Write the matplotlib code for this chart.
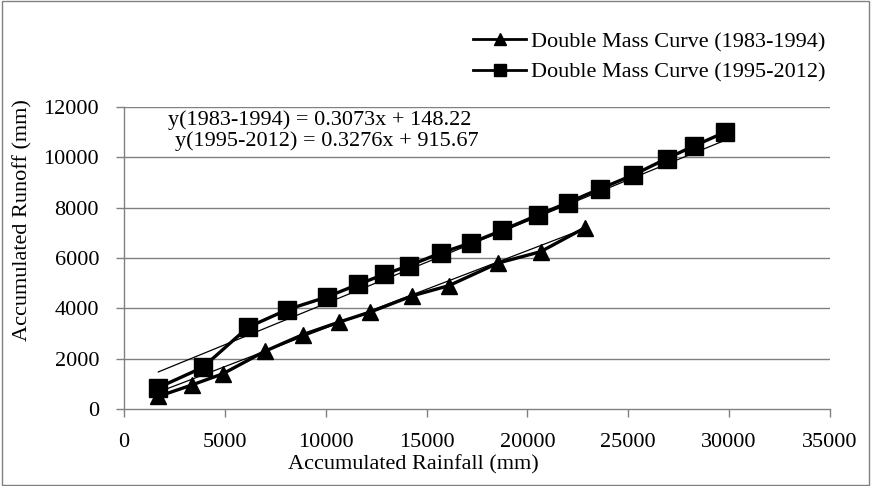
import numpy as np
import matplotlib
matplotlib.use("Agg")
import matplotlib.pyplot as plt
import matplotlib.patches as patches

# accumulated rainfall / runoff, period 1 (1983-1994)
rain_1983 = [1700, 3350, 4900, 7000, 8850, 10650, 12200, 14300, 16100, 18550, 20650, 22850]
runoff_1983 = [500, 950, 1400, 2300, 2950, 3450, 3850, 4500, 4900, 5800, 6250, 7200]

# accumulated rainfall / runoff, period 2 (1995-2012)
rain_1995 = [1700, 3900, 6150, 8100, 10050, 11600, 12900, 14150, 15700, 17200,
             18750, 20500, 22000, 23600, 25250, 26900, 28250, 29800]
runoff_1995 = [850, 1650, 3250, 3950, 4450, 4950, 5350, 5700, 6200, 6600,
               7100, 7700, 8200, 8750, 9300, 9950, 10450, 11000]

# fitted lines
fit_1983 = (0.3073, 148.22)
fit_1995 = (0.3276, 915.67)

x_ticks = [0, 5000, 10000, 15000, 20000, 25000, 30000, 35000]
y_ticks = [0, 2000, 4000, 6000, 8000, 10000, 12000]

plt.rcParams['font.family'] = ['Liberation Serif', 'DejaVu Serif']
fs = 16
W, H = 871, 486

fig = plt.figure(figsize=(W / 100, H / 100), dpi=100)
ax = fig.add_axes([124 / W, 1 - 409 / H, (830 - 124) / W, (409 - 107) / H])

# outer frame of the chart
fig.patches.append(patches.Rectangle((0.002, 0.003), 0.996, 0.994, transform=fig.transFigure,
                                     fill=False, edgecolor='#808080', linewidth=1.0))

gray = '#808080'
for v in y_ticks[1:]:
    ax.axhline(v, color=gray, linewidth=1.0, zorder=0)

ax.plot(rain_1983, runoff_1983, color='black', linewidth=2.4, marker='^',
        markersize=12, label='Double Mass Curve (1983-1994)', zorder=3)
ax.plot(rain_1995, runoff_1995, color='black', linewidth=2.4, marker='s',
        markersize=12.5, label='Double Mass Curve (1995-2012)', zorder=3)

# linear trend lines over each period
for xs, (a, b) in ((rain_1983, fit_1983), (rain_1995, fit_1995)):
    xx = np.array([min(xs), max(xs)])
    ax.plot(xx, a * xx + b, color='black', linewidth=0.9, zorder=2)

ax.set_xlim(0, 35000)
ax.set_ylim(0, 12000)
ax.set_xticks(x_ticks)
ax.set_yticks(y_ticks)
ax.tick_params(axis='both', colors=gray, labelcolor='black', labelsize=fs,
               length=6, width=1.0)
ax.tick_params(axis='x', pad=11)
ax.tick_params(axis='y', pad=12)
for side in ('top', 'right'):
    ax.spines[side].set_visible(False)
for side in ('left', 'bottom'):
    ax.spines[side].set_color(gray)
    ax.spines[side].set_linewidth(1.0)

fig.text(168 / W, 1 - 120 / H, 'y(1983-1994) = 0.3073x + 148.22',
         fontsize=fs, va='center', ha='left')
fig.text(175 / W, 1 - 141 / H, 'y(1995-2012) = 0.3276x + 915.67',
         fontsize=fs, va='center', ha='left')

fig.text(413 / W, 1 - 465 / H, 'Accumulated Rainfall (mm)', fontsize=fs,
         ha='center', va='center')
fig.text(23 / W, 1 - 220 / H, 'Accumulated Runoff (mm)', fontsize=fs,
         ha='center', va='center', rotation=90)

leg = fig.legend(loc='center left', bbox_to_anchor=(473 / W, 1 - 57 / H),
                 frameon=False, fontsize=fs, handlelength=2.4, handletextpad=0.2,
                 labelspacing=0.45, borderpad=0, borderaxespad=0, markerscale=0.7)
for line in leg.get_lines():
    line.set_linewidth(2.0)

fig.savefig('out.png', dpi=100)
